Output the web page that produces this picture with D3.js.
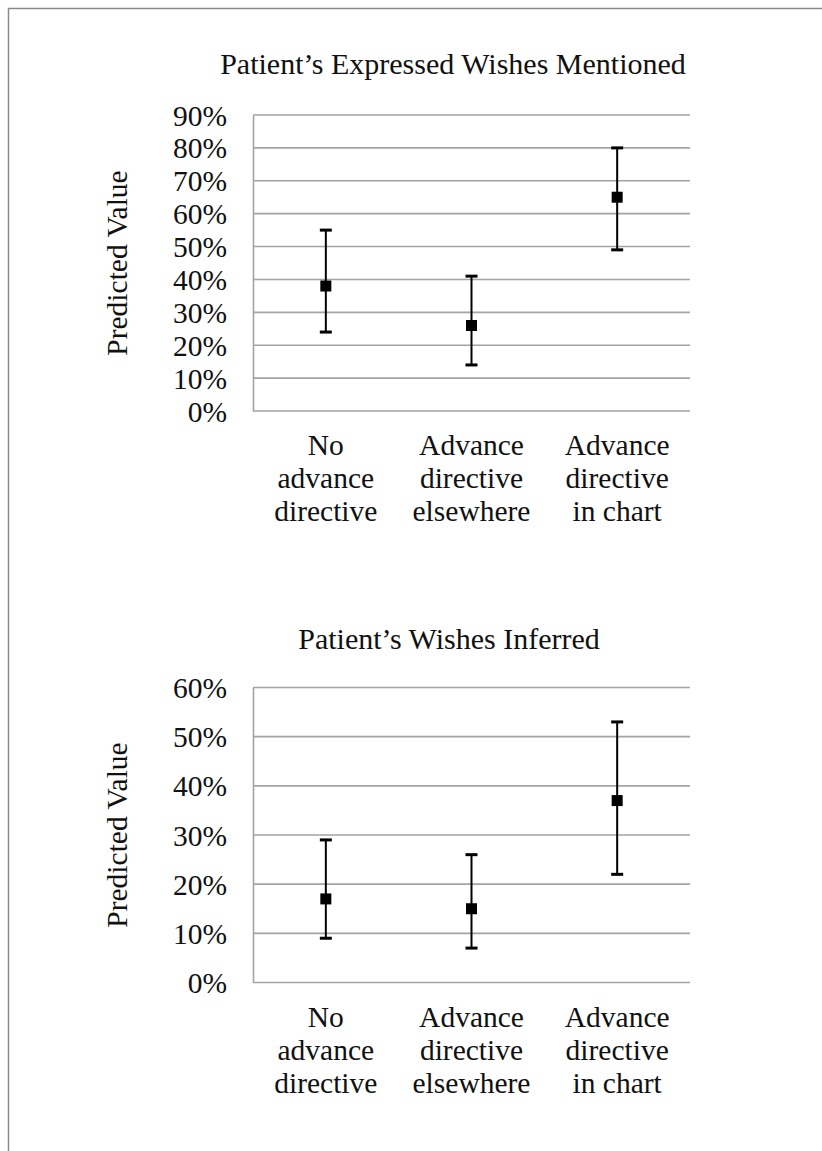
<!DOCTYPE html>
<html>
<head>
<meta http-equiv="Content-Type" content="text/html;charset=utf-8"/>
<style>
  body { margin: 0; background: #fff; }
  svg text { font-family: "Liberation Serif", "Times New Roman", serif; fill: #111; }
</style>
</head>
<body>
  <svg id="chart"></svg>
  <script src="https://d3js.org/d3.v7.min.js"></script>
  <script>
  // Categories, split into the lines they are shown on
  var categories = ["No advance directive", "Advance directive elsewhere", "Advance directive in chart"];
  var categoryLines = [["No", "advance", "directive"], ["Advance", "directive", "elsewhere"], ["Advance", "directive", "in chart"]];

  // Patient's expressed wishes mentioned
  var expressedMean = [0.38, 0.26, 0.65];
  var expressedLow = [0.24, 0.14, 0.49];
  var expressedHigh = [0.55, 0.41, 0.80];
  var expressedTicks = [0, 0.1, 0.2, 0.3, 0.4, 0.5, 0.6, 0.7, 0.8, 0.9];

  // Patient's wishes inferred
  var inferredMean = [0.17, 0.15, 0.37];
  var inferredLow = [0.09, 0.07, 0.22];
  var inferredHigh = [0.29, 0.26, 0.53];
  var inferredTicks = [0, 0.1, 0.2, 0.3, 0.4, 0.5, 0.6];

  var config = {
    width: 822,
    height: 1151,
    plotLeft: 253,
    plotRight: 690,
    fontSize: 29.5,
    titleSize: 30,
    gridColor: '#a3a3a3',
    capWidth: 12,
    markerSize: 11
  };

  var svg = d3.select('#chart')
    .attr('width', config.width)
    .attr('height', config.height);

  // frame round the whole figure (right and bottom edges run off the page)
  svg.append('rect')
    .attr('x', 8.5).attr('y', 8.5)
    .attr('width', 840).attr('height', 1170)
    .attr('fill', 'none')
    .attr('stroke', '#8a8a8a')
    .attr('stroke-width', 1.5);

  var x = d3.scaleBand()
    .domain(categories)
    .range([config.plotLeft, config.plotRight])
    .padding(0);

  var fmt = d3.format('.0%');

  function drawPanel(p) {
    var y = d3.scaleLinear()
      .domain([0, d3.max(p.ticks)])
      .range([p.bottom, p.top]);
    var g = svg.append('g');

    // title
    g.append('text')
      .attr('x', p.titleX)
      .attr('y', p.titleY)
      .attr('text-anchor', 'middle')
      .attr('font-size', config.titleSize)
      .text(p.title);

    // gridlines
    g.selectAll('.grid')
      .data(p.ticks)
      .join('line')
      .attr('x1', config.plotLeft)
      .attr('x2', config.plotRight)
      .attr('y1', function(d) { return y(d); })
      .attr('y2', function(d) { return y(d); })
      .attr('stroke', config.gridColor)
      .attr('stroke-width', 1.6);

    // y axis with percent labels
    var axis = g.append('g')
      .attr('transform', 'translate(' + config.plotLeft + ',0)')
      .call(d3.axisLeft(y).tickValues(p.ticks).tickFormat(fmt).tickSize(0).tickPadding(26));
    axis.select('.domain').attr('stroke', config.gridColor).attr('stroke-width', 1.6);
    axis.selectAll('text')
      .attr('font-size', config.fontSize)
      .attr('font-family', '"Liberation Serif", serif')
      .attr('fill', '#111')
      .attr('dy', '0.34em');

    // y axis title
    g.append('text')
      .attr('transform', 'translate(127,' + ((p.top + p.bottom) / 2) + ') rotate(-90)')
      .attr('text-anchor', 'middle')
      .attr('font-size', config.fontSize)
      .text('Predicted Value');

    // category labels
    var labels = g.selectAll('.cat')
      .data(categories)
      .join('text')
      .attr('text-anchor', 'middle')
      .attr('font-size', config.fontSize);
    labels.each(function(d, i) {
      var t = d3.select(this);
      categoryLines[i].forEach(function(line, j) {
        t.append('tspan')
          .attr('x', x(d) + x.bandwidth() / 2)
          .attr('y', p.bottom + 44 + j * 33)
          .text(line);
      });
    });

    // error bars
    var cx = function(i) { return x(categories[i]) + x.bandwidth() / 2; };
    var bars = g.selectAll('.err')
      .data(p.mean)
      .join('g');
    bars.append('line')
      .attr('x1', function(d, i) { return cx(i); })
      .attr('x2', function(d, i) { return cx(i); })
      .attr('y1', function(d, i) { return y(p.low[i]); })
      .attr('y2', function(d, i) { return y(p.high[i]); })
      .attr('stroke', '#000')
      .attr('stroke-width', 2);
    [p.low, p.high].forEach(function(arr) {
      bars.append('line')
        .attr('x1', function(d, i) { return cx(i) - config.capWidth / 2; })
        .attr('x2', function(d, i) { return cx(i) + config.capWidth / 2; })
        .attr('y1', function(d, i) { return y(arr[i]); })
        .attr('y2', function(d, i) { return y(arr[i]); })
        .attr('stroke', '#000')
        .attr('stroke-width', 3);
    });
    bars.append('rect')
      .attr('x', function(d, i) { return cx(i) - config.markerSize / 2; })
      .attr('y', function(d) { return y(d) - config.markerSize / 2; })
      .attr('width', config.markerSize)
      .attr('height', config.markerSize)
      .attr('fill', '#000');
  }

  drawPanel({
    title: 'Patient\u2019s Expressed Wishes Mentioned',
    titleX: 453, titleY: 74,
    top: 115, bottom: 411,
    ticks: expressedTicks,
    mean: expressedMean, low: expressedLow, high: expressedHigh
  });

  drawPanel({
    title: 'Patient\u2019s Wishes Inferred',
    titleX: 449, titleY: 649,
    top: 687.5, bottom: 982.5,
    ticks: inferredTicks,
    mean: inferredMean, low: inferredLow, high: inferredHigh
  });
  </script>
</body>
</html>
